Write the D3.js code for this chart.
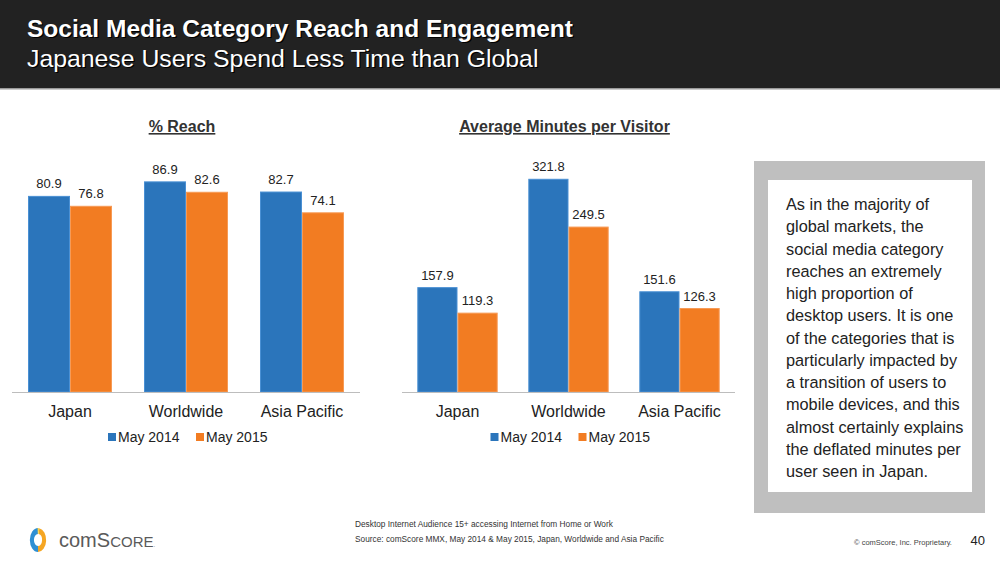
<!doctype html>
<html lang="en">
  <head>
    <meta charset="utf-8">
    <title>Social Media Category Reach and Engagement</title>
    <script src="https://d3js.org/d3.v7.min.js"></script>
    <style>
      body { margin: 0; background: #fff; }
      text { font-family: "Liberation Sans", Arial, sans-serif; }
    </style>
  </head>

  <body>
    <svg width="1000" height="562"></svg>

    <script>
      // data
      var categories = ['Japan', 'Worldwide', 'Asia Pacific'];
      var series = ['May 2014', 'May 2015'];
      var reach2014 = [80.9, 86.9, 82.7];
      var reach2015 = [76.8, 82.6, 74.1];
      var minutes2014 = [157.9, 321.8, 151.6];
      var minutes2015 = [119.3, 249.5, 126.3];

      var colors = { 'May 2014': '#2b75bb', 'May 2015': '#f27c22' };
      var strokes = { 'May 2014': '#4a90d4', 'May 2015': '#f79a55' };

      var svg = d3.select('svg');

      // header bar
      svg.append('rect').attr('x', 0).attr('y', 0).attr('width', 1000).attr('height', 88).style('fill', '#222');
      svg.append('rect').attr('x', 0).attr('y', 88).attr('width', 1000).attr('height', 1.5).style('fill', '#9a9a9a');

      var headline = function(txt, y, size, weight){
        svg.append('text').attr('x', 28.2).attr('y', y + 1.2).text(txt)
          .style('font-size', size + 'px').style('font-weight', weight).style('fill', '#000');
        svg.append('text').attr('x', 27).attr('y', y).text(txt)
          .style('font-size', size + 'px').style('font-weight', weight).style('fill', '#fff');
      }
      headline('Social Media Category Reach and Engagement', 37, 24.5, 'bold');
      headline('Japanese Users Spend Less Time than Global', 67, 24.8, 'normal');

      var drawChart = function(opts){
        var g = svg.append('g');
        var x0 = d3.scaleBand().domain(categories).range([opts.left, opts.right])
          .paddingInner(0.276).paddingOuter(0.138);
        var x1 = d3.scaleBand().domain(series).range([0, x0.bandwidth()]);
        var y = d3.scaleLinear().domain([0, opts.max]).range([392, 392 - opts.max * opts.pxPerUnit]);

        var rows = categories.map(function(c, i){
          return { cat: c, values: [
            { s: series[0], v: opts.a[i] },
            { s: series[1], v: opts.b[i] }
          ]};
        });

        var groups = g.selectAll('.grp').data(rows).enter().append('g')
          .attr('transform', function(d){ return 'translate(' + x0(d.cat) + ',0)'; });

        groups.selectAll('rect').data(function(d){ return d.values; }).enter().append('rect')
          .attr('x', function(d){ return x1(d.s) + 0.5; })
          .attr('width', x1.bandwidth() - 1)
          .attr('y', function(d){ return y(d.v); })
          .attr('height', function(d){ return y(0) - y(d.v); })
          .style('fill', function(d){ return colors[d.s]; })
          .style('stroke', function(d){ return strokes[d.s]; })
          .style('stroke-width', 1);

        groups.selectAll('.val').data(function(d){ return d.values; }).enter().append('text')
          .attr('x', function(d){ return x1(d.s) + x1.bandwidth() / 2; })
          .attr('y', function(d){ return y(d.v) - 8; })
          .attr('text-anchor', 'middle')
          .style('font-size', '13px').style('fill', '#222')
          .text(function(d){ return d3.format('.1f')(d.v); });

        // baseline
        g.append('line').attr('x1', opts.left).attr('x2', opts.right)
          .attr('y1', y(0) + 0.5).attr('y2', y(0) + 0.5)
          .style('stroke', '#bdbdbd').style('stroke-width', 1.2);

        var axis = d3.axisBottom(x0).tickSize(0).tickPadding(14);
        var ax = g.append('g').attr('transform', 'translate(0,' + y(0) + ')').call(axis);
        ax.select('.domain').remove();
        ax.selectAll('text').style('font-size', '16px').style('fill', '#222')
          .style('font-family', '"Liberation Sans", Arial, sans-serif');

        // title
        var mid = (opts.left + opts.right) / 2;
        g.append('text').attr('x', mid - 4).attr('y', 132).attr('text-anchor', 'middle')
          .style('font-size', '16px').style('font-weight', 'bold').style('fill', '#333')
          .style('text-decoration', 'underline')
          .text(opts.title);

        // legend
        var leg = g.selectAll('.leg').data(series).enter().append('g')
          .attr('transform', function(d, i){ return 'translate(' + (mid - 78 + i * 88) + ',0)'; });
        leg.append('rect').attr('x', 0).attr('y', 433).attr('width', 8).attr('height', 8)
          .style('fill', function(d){ return colors[d]; });
        leg.append('text').attr('x', 10).attr('y', 442).style('font-size', '14px').style('fill', '#222')
          .text(function(d){ return d; });
      }

      drawChart({ left: 12, right: 360, max: 100, pxPerUnit: 2.418, a: reach2014, b: reach2015, title: '% Reach' });
      drawChart({ left: 402, right: 735, max: 350, pxPerUnit: 0.661, a: minutes2014, b: minutes2015, title: 'Average Minutes per Visitor' });

      // commentary box
      svg.append('rect').attr('x', 754).attr('y', 161).attr('width', 231).attr('height', 352).style('fill', '#bfbfbf');
      svg.append('rect').attr('x', 768).attr('y', 180).attr('width', 204).attr('height', 312).style('fill', '#fff');
      var note = ['As in the majority of', 'global markets, the', 'social media category', 'reaches an extremely',
        'high proportion of', 'desktop users. It is one', 'of the categories that is', 'particularly impacted by',
        'a transition of users to', 'mobile devices, and this', 'almost certainly explains',
        'the deflated minutes per', 'user seen in Japan.'];
      svg.append('g').selectAll('text').data(note).enter().append('text')
        .attr('x', 786).attr('y', function(d, i){ return 210 + i * 22.25; })
        .style('font-size', '16.3px').style('fill', '#222')
        .text(function(d){ return d; });

      // footer
      svg.append('text').attr('x', 355).attr('y', 527).style('font-size', '8.3px').style('fill', '#333')
        .text('Desktop Internet Audience 15+ accessing Internet from Home or Work');
      svg.append('text').attr('x', 355).attr('y', 542).style('font-size', '8.3px').style('fill', '#333')
        .text('Source: comScore MMX, May 2014 & May 2015, Japan, Worldwide and Asia Pacific');
      svg.append('text').attr('x', 903).attr('y', 545).attr('text-anchor', 'middle')
        .style('font-size', '7.5px').style('fill', '#444').text('\u00a9 comScore, Inc. Proprietary.');
      svg.append('text').attr('x', 985).attr('y', 545).attr('text-anchor', 'end')
        .style('font-size', '13px').style('fill', '#222').text('40');

      // logo
      var logo = svg.append('g').attr('transform', 'translate(38,540) scale(0.68,1)');
      var ring = d3.arc().innerRadius(6).outerRadius(12);
      logo.append('path').attr('d', ring({ startAngle: Math.PI, endAngle: 2 * Math.PI })).style('fill', '#2e8fd3');
      logo.append('path').attr('d', ring({ startAngle: 0.15, endAngle: Math.PI })).style('fill', '#f5a623');
      logo.append('path').attr('d', ring({ startAngle: -0.05, endAngle: 0.15 })).style('fill', '#f7d34a');
      var brand = svg.append('text').attr('x', 59).attr('y', 547).style('fill', '#5a5a5a').style('font-size', '20px');
      brand.append('tspan').text('comS');
      brand.append('tspan').style('font-size', '15px').text('CORE');
      brand.append('tspan').style('font-size', '6px').text('.');
    </script>
  </body>
</html>
